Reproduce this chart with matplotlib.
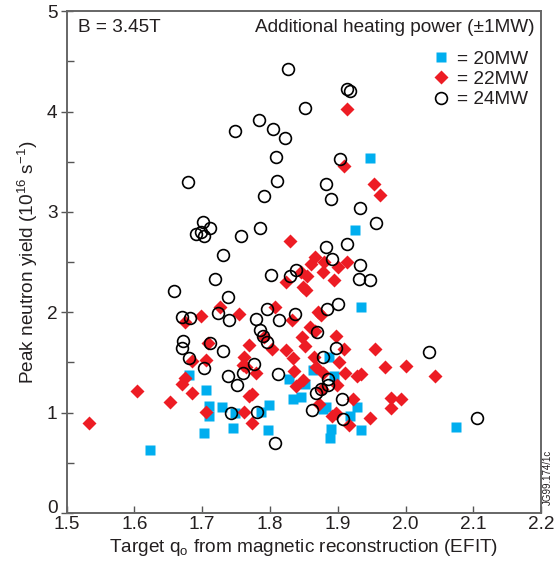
import matplotlib
matplotlib.use("Agg")
import matplotlib.pyplot as plt
from matplotlib.ticker import MultipleLocator

plt.rcParams["font.family"] = ["Liberation Sans", "DejaVu Sans"]

TEXT = "#231f20"
BLUE = "#00aeef"
RED = "#ed1c24"

# 20MW (squares)
q_20 = [1.623, 1.680, 1.705, 1.710, 1.729, 1.710, 1.703, 1.748, 1.746, 1.799,
        1.787, 1.797, 1.828, 1.834, 1.846, 1.852, 1.864, 1.887, 1.895, 1.878,
        1.883, 1.890, 1.888, 1.918, 1.928, 1.935, 1.934, 1.926, 1.948, 2.075]
y_20 = [0.63, 1.37, 1.22, 1.07, 1.06, 0.97, 0.80, 1.00, 0.85, 1.08,
        1.01, 0.83, 1.33, 1.14, 1.16, 1.28, 1.42, 1.55, 1.36, 1.04,
        1.06, 0.84, 0.75, 0.97, 1.06, 0.83, 2.05, 2.82, 3.54, 0.86]

# 22MW (diamonds)
q_22 = [1.533, 1.604, 1.653, 1.670, 1.674, 1.675, 1.685, 1.685, 1.698, 1.705,
        1.706, 1.709, 1.727, 1.755, 1.761, 1.762, 1.760, 1.765, 1.769, 1.769,
        1.773, 1.774, 1.779, 1.791, 1.803, 1.807, 1.824, 1.824, 1.830, 1.832,
        1.834, 1.835, 1.839, 1.847, 1.846, 1.849, 1.849, 1.853, 1.852, 1.855,
        1.859, 1.866, 1.861, 1.866, 1.865, 1.868, 1.871, 1.876, 1.873, 1.877,
        1.878, 1.878, 1.879, 1.892, 1.894, 1.897, 1.898, 1.899, 1.901, 1.902,
        1.909, 1.909, 1.911, 1.913, 1.914, 1.917, 1.923, 1.928, 1.935, 1.947,
        1.953, 1.955, 1.962, 1.970, 1.978, 1.979, 1.994, 2.000, 2.044]
y_22 = [0.90, 1.21, 1.11, 1.28, 1.34, 1.90, 1.51, 1.20, 1.96, 1.52,
        1.01, 1.69, 2.05, 1.98, 1.01, 1.55, 1.47, 1.45, 1.67, 1.17,
        1.19, 0.90, 1.39, 1.75, 1.63, 2.05, 1.62, 2.30, 2.71, 1.92,
        1.54, 1.41, 1.26, 1.75, 2.40, 1.32, 2.25, 2.22, 1.66, 2.36,
        1.85, 1.81, 2.48, 2.55, 1.55, 1.45, 2.00, 1.97, 1.09, 1.23,
        1.39, 2.40, 2.50, 0.97, 2.32, 1.76, 1.00, 1.27, 2.45, 1.50,
        1.63, 3.46, 1.39, 2.50, 4.03, 0.88, 1.14, 1.36, 1.38, 0.95,
        3.28, 1.63, 3.17, 1.45, 1.15, 1.05, 1.14, 1.46, 1.36]

# 24MW (open circles)
q_24 = [1.658, 1.670, 1.682, 1.672, 1.670, 1.679, 1.680, 1.691, 1.698, 1.701,
        1.703, 1.711, 1.703, 1.712, 1.719, 1.724, 1.730, 1.731, 1.738, 1.740,
        1.738, 1.742, 1.748, 1.751, 1.757, 1.760, 1.777, 1.779, 1.781, 1.784,
        1.785, 1.786, 1.790, 1.791, 1.795, 1.796, 1.801, 1.804, 1.807, 1.809,
        1.811, 1.812, 1.813, 1.822, 1.826, 1.829, 1.837, 1.839, 1.852, 1.862,
        1.868, 1.870, 1.876, 1.878, 1.882, 1.883, 1.884, 1.886, 1.886, 1.890,
        1.891, 1.898, 1.900, 1.904, 1.906, 1.908, 1.914, 1.914, 1.918, 1.933,
        1.933, 1.932, 1.947, 1.956, 2.035, 2.106]
y_24 = [2.21, 1.95, 1.94, 1.71, 1.64, 3.30, 1.54, 2.78, 2.80, 2.90,
        2.76, 2.84, 1.44, 1.69, 2.33, 1.99, 2.57, 1.61, 2.15, 1.92,
        1.36, 1.00, 3.81, 1.27, 2.76, 1.39, 1.48, 1.93, 1.01, 3.92,
        1.82, 2.84, 1.76, 3.16, 1.70, 2.03, 2.37, 3.83, 0.70, 3.55,
        3.31, 1.38, 1.92, 3.74, 4.42, 2.36, 1.98, 2.42, 4.04, 1.03,
        1.20, 1.80, 1.23, 1.55, 2.65, 3.28, 2.03, 1.33, 1.27, 3.13,
        2.53, 1.64, 2.08, 3.53, 1.14, 0.94, 2.68, 4.23, 4.21, 3.04,
        2.47, 2.33, 2.32, 2.89, 1.60, 0.95]

FS = 13.7

fig = plt.figure(figsize=(5.55, 5.63), dpi=100)
ax = fig.add_axes([0.120, 0.089, 0.855, 0.891])

ax.plot(q_24, y_24, "o", ms=8.5, mfc="none", mec="black", mew=1.2,
        label="= 24MW", zorder=3)
ax.plot(q_22, y_22, "D", ms=7.0, color=RED, mec="none", label="= 22MW", zorder=2)
ax.plot(q_20, y_20, "s", ms=7.5, color=BLUE, mec="none", label="= 20MW", zorder=1)

ax.set_xlim(1.5, 2.2)
ax.set_ylim(0, 5)
ax.xaxis.set_major_locator(MultipleLocator(0.1))
ax.yaxis.set_major_locator(MultipleLocator(1))
ax.yaxis.set_minor_locator(MultipleLocator(0.5))
ax.set_xticklabels([f"{v:.1f}" for v in ax.get_xticks()])
ax.tick_params(axis="x", direction="in", length=5, width=1, colors="#555555",
               labelsize=FS, labelcolor=TEXT, pad=2)
ax.tick_params(axis="y", which="major", direction="inout", length=9, width=1,
               colors="#555555", labelsize=FS, labelcolor=TEXT, pad=2)
ax.tick_params(axis="y", which="minor", direction="in", length=5, width=1,
               colors="#555555")
for s in ax.spines.values():
    s.set_color("#666666")
    s.set_linewidth(1.4)

ax.set_xlabel("Target q$_\\mathregular{o}$ from magnetic reconstruction (EFIT)",
              fontsize=FS, color=TEXT, labelpad=3)
ax.set_ylabel("Peak neutron yield (10$^\\mathregular{16}$ s$^\\mathregular{-1}$)",
              fontsize=FS, color=TEXT, labelpad=5)

ax.text(0.025, 0.985, "B = 3.45T", transform=ax.transAxes, ha="left", va="top",
        fontsize=FS, color=TEXT)
ax.text(0.985, 0.985, "Additional heating power (\u00b11MW)", transform=ax.transAxes,
        ha="right", va="top", fontsize=FS, color=TEXT)

handles, labels = ax.get_legend_handles_labels()
leg = ax.legend(handles[::-1], labels[::-1], loc="upper right",
                bbox_to_anchor=(1.0, 0.948), frameon=False, fontsize=FS,
                handlelength=0.8, handletextpad=0.4, labelspacing=0.15,
                borderaxespad=0.3)
for t in leg.get_texts():
    t.set_color(TEXT)

fig.text(0.988, 0.152, "JG99.174/1c", rotation=90, ha="center", va="center",
         fontsize=7, color=TEXT)

# the "0" sits on the axis line, clear of "1.5" (set after a first draw)
fig.canvas.draw()
for tick in ax.yaxis.get_major_ticks():
    if abs(tick.get_loc()) < 1e-9:
        tick.label1.set_verticalalignment("baseline")

fig.savefig("out.png", dpi=100)
